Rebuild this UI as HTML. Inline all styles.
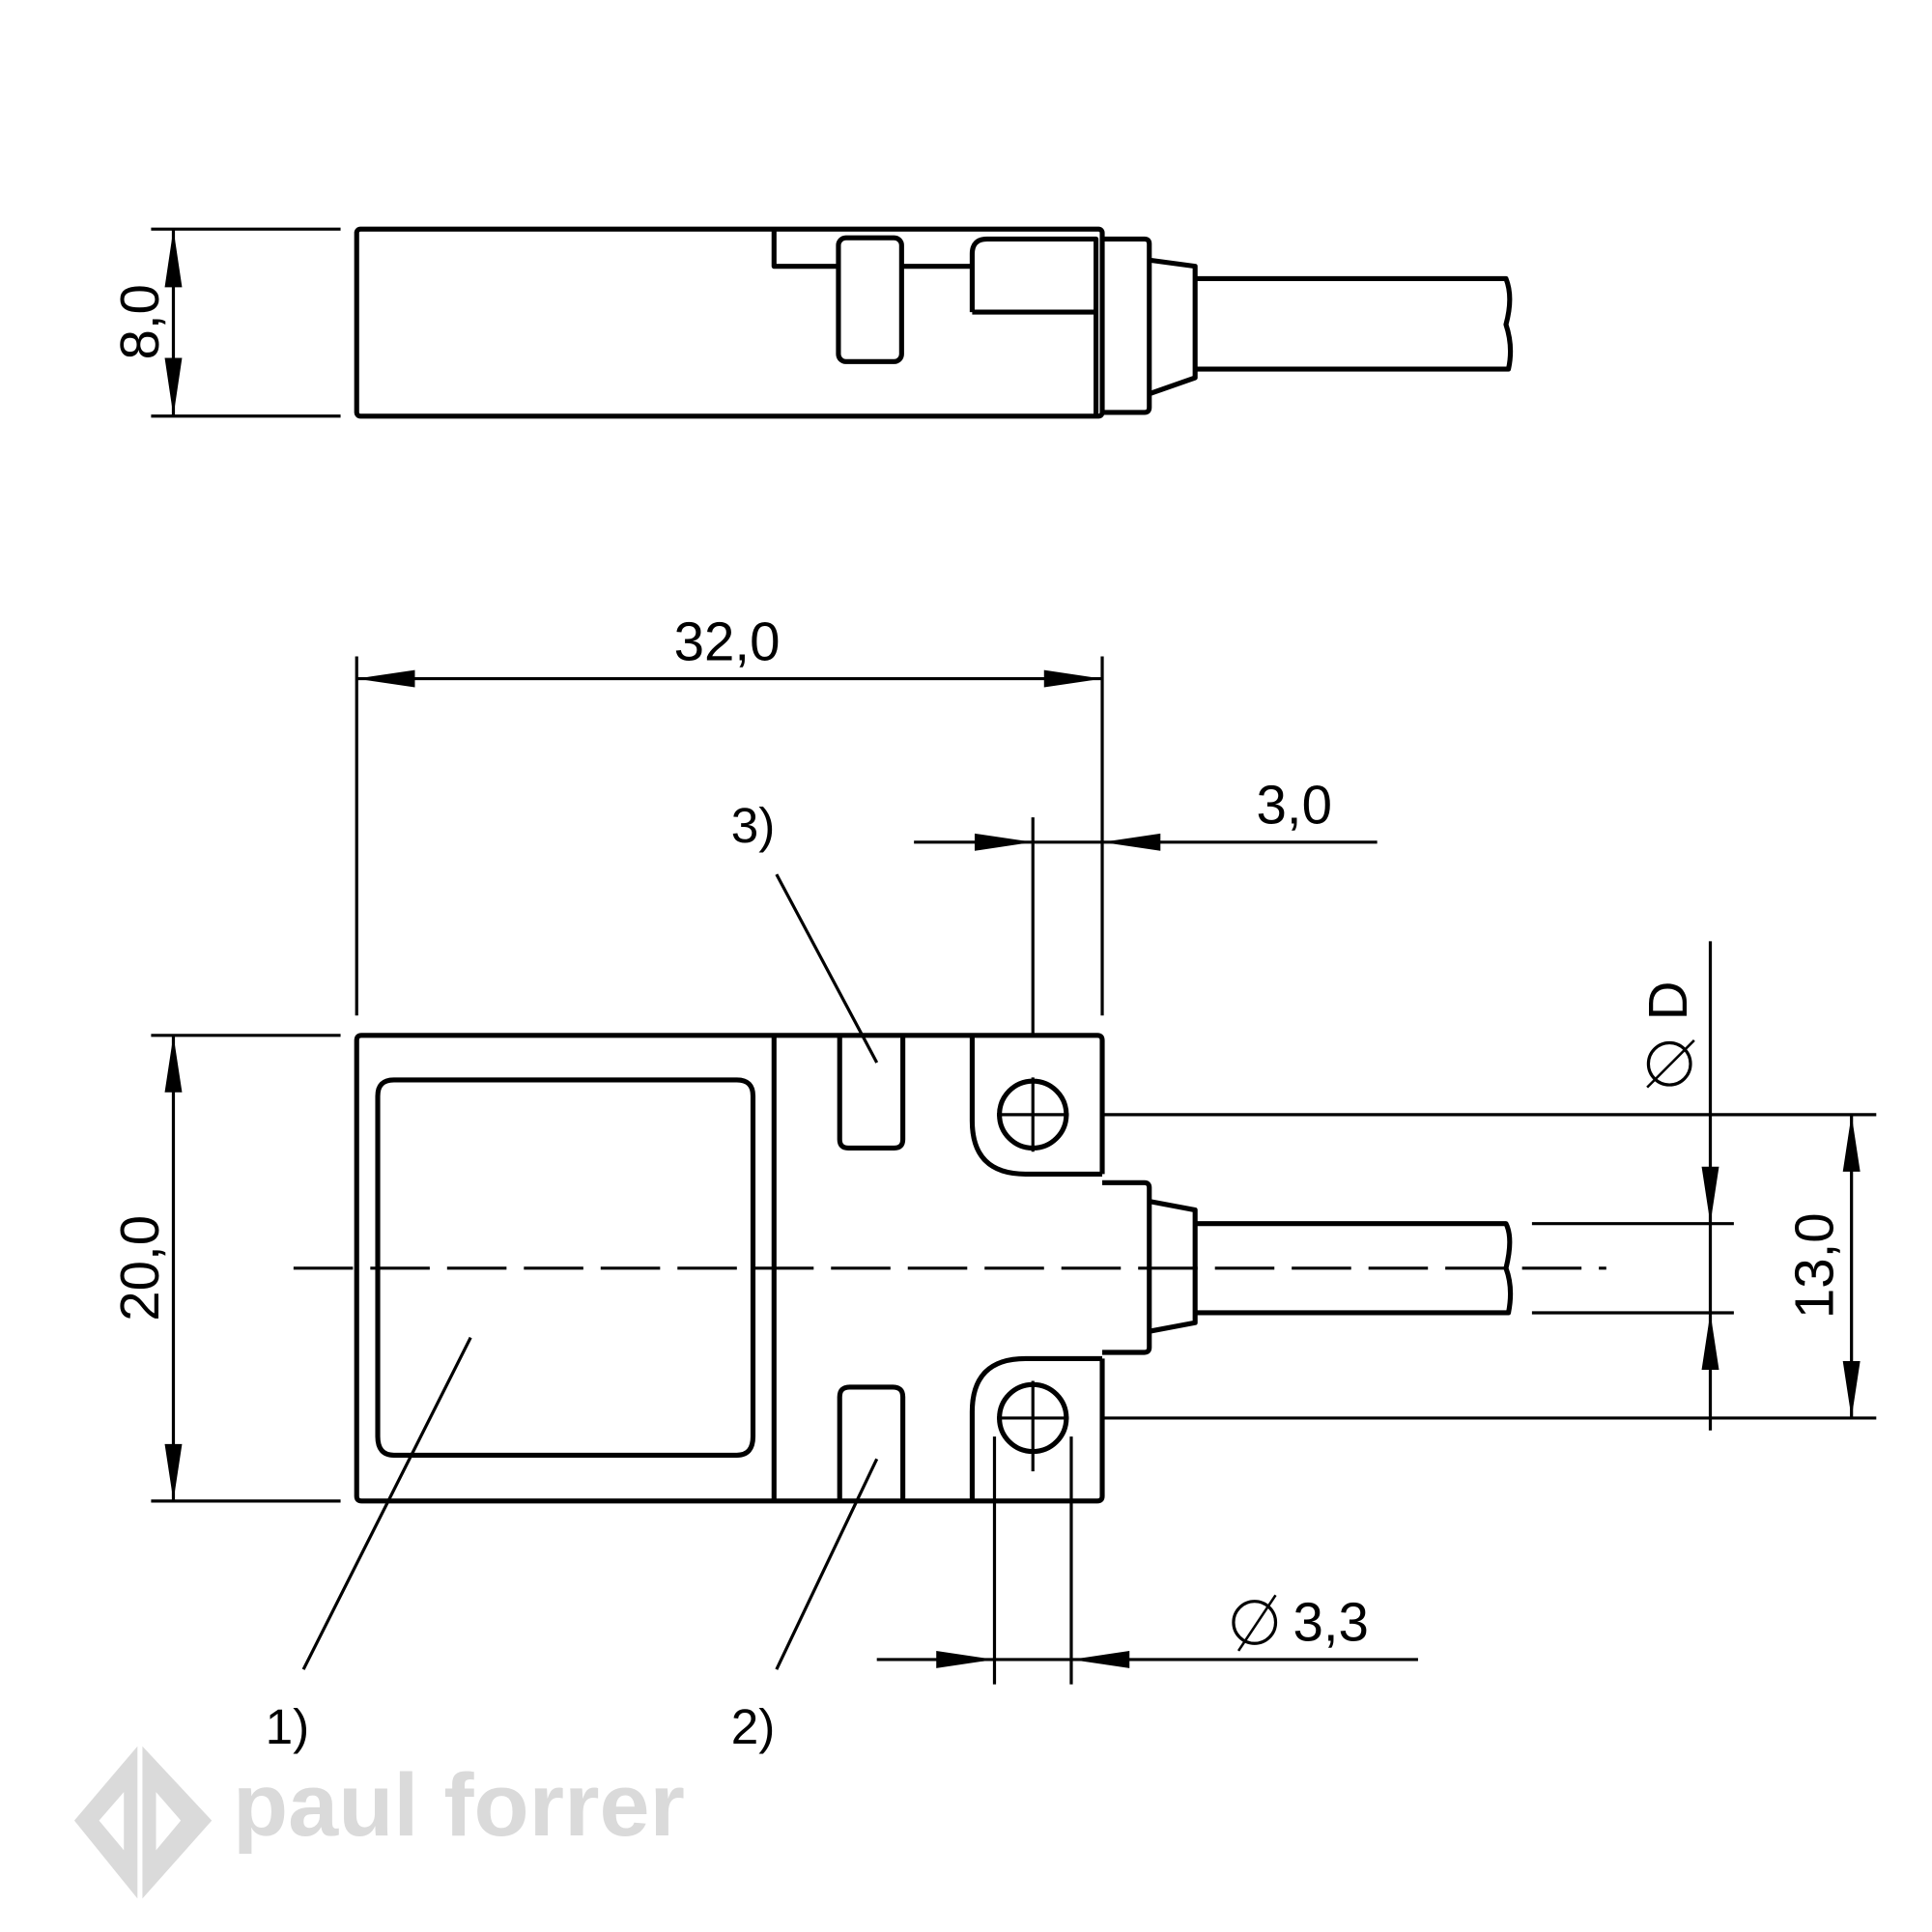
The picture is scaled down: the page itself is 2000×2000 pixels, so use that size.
<!DOCTYPE html>
<html><head><meta charset="utf-8"><style>
html,body{margin:0;padding:0;background:#fff}
svg{display:block}
text{font-family:"Liberation Sans",sans-serif;fill:#000}
</style></head><body>
<svg width="2000" height="2000" viewBox="0 0 1560 1560" xmlns="http://www.w3.org/2000/svg">
<g fill="none" stroke="#000" stroke-width="4" stroke-linejoin="round">
<!-- TOP VIEW -->
<rect x="288" y="185" width="602" height="151" rx="3"/>
<path d="M625 185 V215 H677 M728 215 H785"/>
<rect x="677" y="192" width="51" height="100" rx="6"/>
<path d="M785 252 V205 Q785 193 797 193 H885 V336 M785 252 H885"/>
<path d="M890 193 H924 Q928 193 928 197 V329 Q928 333 924 333 H890"/>
<path d="M928 210 L965 215 V305 L928 318"/>
<path d="M965 225 H1216 Q1222 240 1216 262 Q1222 280 1218 298 H965"/>
</g>
<g stroke="#000" stroke-width="2.5" fill="none">
<path d="M122 185 H275 M122 336 H275 M140 185 V336"/>
</g>
<path d="M140 185 L133 232 H147 Z M140 336 L133 289 H147 Z" fill="#000"/>
<text transform="translate(128 260) rotate(-90)" font-size="44" text-anchor="middle">8,0</text>

<!-- FRONT VIEW -->
<g fill="none" stroke="#000" stroke-width="4" stroke-linejoin="round">
<path d="M890 948 V840 Q890 836 886 836 H292 Q288 836 288 840 V1208 Q288 1212 292 1212 H886 Q890 1212 890 1208 V1097"/>
<path d="M318 872 H595 Q608 872 608 885 V1160 Q608 1175 595 1175 H318 Q305 1175 305 1160 V885 Q305 872 318 872 Z"/>
<path d="M625 836 V1212"/>
<path d="M678 836 V920 Q678 927 685 927 H722 Q729 927 729 920 V836"/>
<path d="M678 1212 V1128 Q678 1120 686 1120 H721 Q729 1120 729 1128 V1212"/>
<path d="M785 836 V905 Q785 948 828 948 H890"/>
<path d="M890 1097 H828 Q785 1097 785 1140 V1212"/>
<circle cx="834" cy="900" r="27"/>
<circle cx="834" cy="1145" r="27"/>
<path d="M890 955 H924 Q928 955 928 959 V1088 Q928 1092 924 1092 H890"/>
<path d="M928 970 L965 977 V1068 L928 1075"/>
<path d="M965 988 H1216 Q1222 1000 1216 1024 Q1222 1040 1218 1060 H965"/>
</g>
<g stroke="#000" stroke-width="2.5" fill="none">
<path d="M237 1024 H1297" stroke-dasharray="48 14"/>
<path d="M805 900 H863 M834 870 V930 M805 1145 H863 M834 1115 V1188"/>
<path d="M890 900 H1515 M890 1145 H1515 M1237 988 H1400 M1237 1060 H1400"/>
<path d="M1381 760 V1155 M1495 900 V1145"/>
<path d="M122 836 H275 M122 1212 H275 M140 836 V1212"/>
<path d="M288 530 V820 M890 530 V820 M288 548 H890"/>
<path d="M834 660 V836 M738 680 H1112"/>
<path d="M803 1160 V1360 M865 1160 V1360 M708 1340 H1145"/>
<path d="M627 706 L708 858 M245 1348 L380 1080 M627 1348 L708 1178"/>
<path d="M1330 878 L1368 840" stroke-width="2"/>
<path d="M1000 1333 L1030 1288" stroke-width="2"/>
</g>
<g fill="#000">
<path d="M1381 988 L1374 942 H1388 Z M1381 1060 L1374 1106 H1388 Z"/>
<path d="M1495 900 L1488 946 H1502 Z M1495 1145 L1488 1099 H1502 Z"/>
<path d="M140 836 L133 882 H147 Z M140 1212 L133 1166 H147 Z"/>
<path d="M288 548 L335 541 V555 Z M890 548 L843 541 V555 Z"/>
<path d="M834 680 L787 673 V687 Z M890 680 L937 673 V687 Z"/>
<path d="M803 1340 L756 1333 V1347 Z M865 1340 L912 1333 V1347 Z"/>
</g>
<text x="587" y="533" font-size="44" text-anchor="middle">32,0</text>
<text x="1045" y="665" font-size="44" text-anchor="middle">3,0</text>
<text x="1044" y="1325" font-size="44">3,3</text>
<circle cx="1013" cy="1310" r="17" fill="none" stroke="#000" stroke-width="2.5"/>
<text transform="translate(128 1024) rotate(-90)" font-size="44" text-anchor="middle">20,0</text>
<text transform="translate(1480 1022) rotate(-90)" font-size="44" text-anchor="middle">13,0</text>
<text transform="translate(1362 808) rotate(-90)" font-size="44" text-anchor="middle">D</text>
<circle cx="1348" cy="859" r="17" fill="none" stroke="#000" stroke-width="2.5"/>
<text x="608" y="680" font-size="40" text-anchor="middle">3)</text>
<text x="232" y="1408" font-size="40" text-anchor="middle">1)</text>
<text x="608" y="1408" font-size="40" text-anchor="middle">2)</text>
<!-- logo -->
<g fill="#dadada">
<path d="M60 1470 L111 1410 V1533 Z M115 1410 L171 1470 L115 1533 Z"/>
</g>
<path d="M80 1470 L100 1447 V1494 Z M126 1447 L146 1470 L126 1494 Z" fill="#fff"/>
<text x="188" y="1482" font-size="72" font-weight="bold" fill="#dadada" style="fill:#dadada" textLength="365" lengthAdjust="spacingAndGlyphs">paul forrer</text>
</svg>
</body></html>
